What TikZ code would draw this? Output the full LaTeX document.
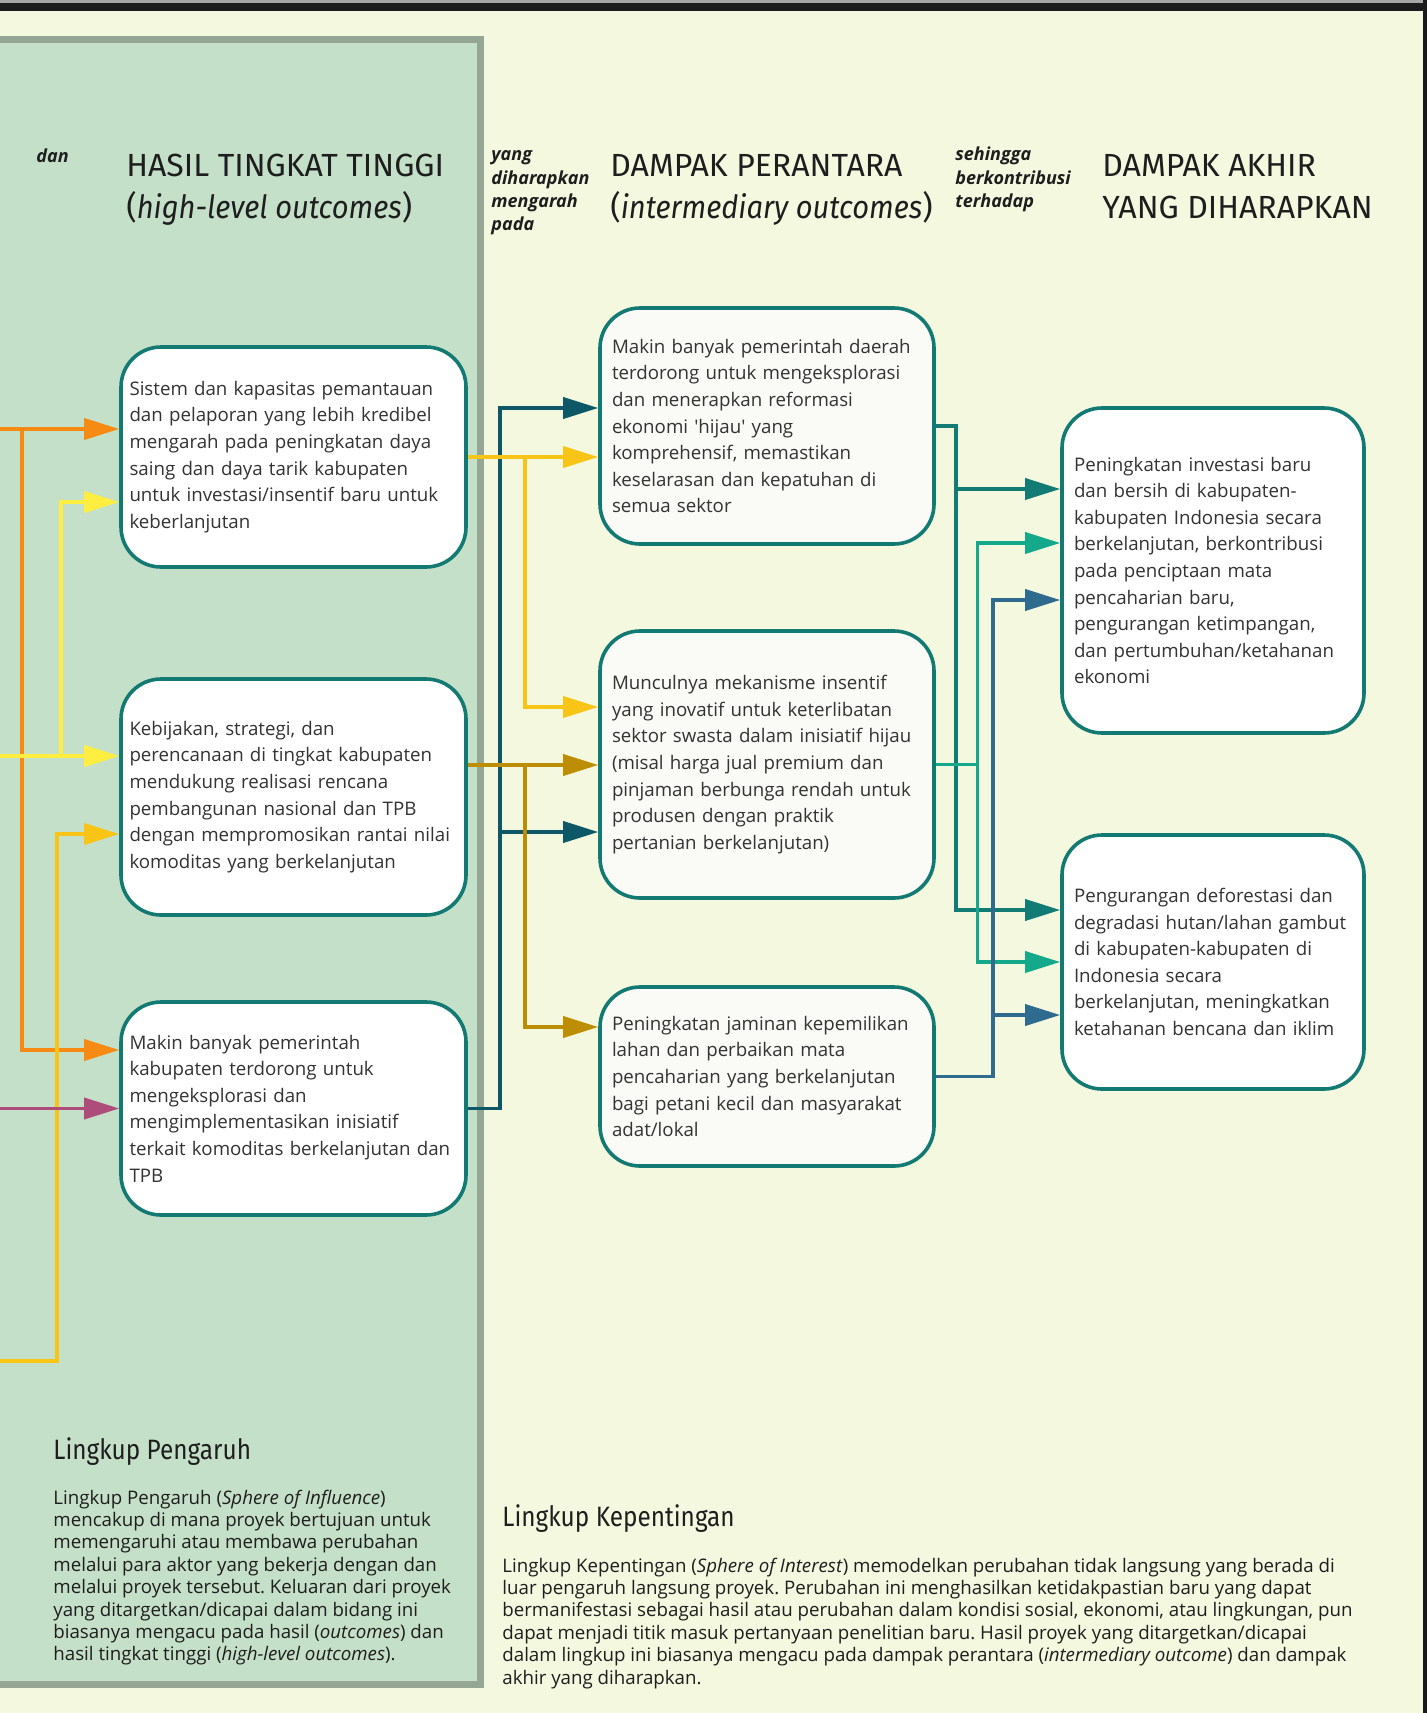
\documentclass[tikz,border=0pt]{standalone}
\usepackage{fontspec}
\setmainfont{Open Sans}
\newfontfamily\headfont[ItalicFeatures={FakeStretch=0.91}]{Fira Sans}
\newfontfamily\sphfont[FakeStretch=0.87]{Fira Sans}
\usetikzlibrary{arrows.meta,calc}
\frenchspacing

\definecolor{bgcol}{HTML}{F4F8DF}
\definecolor{panelcol}{HTML}{C5E0C8}
\definecolor{panelline}{HTML}{95A794}
\definecolor{framecol}{HTML}{1B1B1B}
\definecolor{boxline}{HTML}{127A72}
\definecolor{midfill}{HTML}{FAFAF6}
\definecolor{txtcol}{HTML}{333333}
\definecolor{headcol}{HTML}{1E1E1E}
\definecolor{orng}{HTML}{F78A12}
\definecolor{ylw}{HTML}{FFEE3F}
\definecolor{gld}{HTML}{F8C516}
\definecolor{mgnt}{HTML}{AE4C7A}
\definecolor{navy}{HTML}{0D5769}
\definecolor{dgld}{HTML}{BE8E02}
\definecolor{tealc}{HTML}{127C74}
\definecolor{grn}{HTML}{14A98A}
\definecolor{blu}{HTML}{2F6A8F}

\begin{document}
\begin{tikzpicture}[
    x=0.5pt, y=-0.5pt,
    outbox/.style={draw=boxline, line width=1.8pt, rounded corners=20pt,
      fill=white, text=txtcol, align=left, inner sep=0pt,
      font=\fontsize{9.35}{13.3}\selectfont},
    midbox/.style={outbox, fill=midfill},
    colhead/.style={anchor=north west, inner sep=0pt, align=left, text=headcol,
      font=\headfont\fontsize{16}{20.85}\selectfont},
    linkword/.style={anchor=north west, inner sep=0pt, align=left, text=headcol,
      font=\bfseries\itshape\fontsize{9}{11.65}\selectfont},
    sphhead/.style={anchor=base west, inner sep=0pt, text=headcol,
      font=\sphfont\fontsize{14}{16}\selectfont},
    sphtext/.style={anchor=north west, inner sep=0pt, align=left, text=headcol,
      font=\fontsize{9.35}{11.2}\selectfont},
    link/.style={line width=1.8pt, -{Triangle[length=17.5pt,width=10.5pt]}}
  ]
  \useasboundingbox (0,0) rectangle (1427,1713);
  \clip (0,0) rectangle (1427,1713);

  % background and frame
  \fill [bgcol] (0,0) rectangle (1427,1713);
  \fill [framecol] (0,0) rectangle (1427,11);
  \fill [gray!70] (0,0) rectangle (1427,3);
  \fill [framecol] (1422.5,0) rectangle (1427,1713);

  % sphere of influence panel
  \draw [panelline, fill=panelcol, line width=3.5pt] (-10,39.5) rectangle (480.5,1684);

  % column headings
  \node [linkword] (wDan) at (36,146) {\strut dan};
  \node [colhead] (hHasil) at (126,147) {\strut HASIL TINGKAT TINGGI\\(\textit{high-level outcomes})};
  \node [linkword] (wYang) at (491,144) {\strut yang\\diharapkan\\mengarah\\pada};
  \node [colhead] (hAntara) at (610,147) {\strut DAMPAK PERANTARA\\(\textit{intermediary outcomes})};
  \node [linkword] (wHingga) at (955,144) {\strut sehingga\\berkontribusi\\terhadap};
  \node [colhead] (hAkhir) at (1102,147) {\strut DAMPAK AKHIR\\YANG DIHARAPKAN};

  % high-level outcomes
  \node [outbox, minimum width=172.5pt, minimum height=110pt, text width=164pt] (b1) at (293.5,457)
    {Sistem dan kapasitas pemantauan\\dan pelaporan yang lebih kredibel\\mengarah pada peningkatan daya\\saing dan daya tarik kabupaten\\untuk investasi/insentif baru untuk\\keberlanjutan};
  \node [outbox, minimum width=172.5pt, minimum height=118pt, text width=164pt] (b2) at (293.5,797)
    {Kebijakan, strategi, dan\\perencanaan di tingkat kabupaten\\mendukung realisasi rencana\\pembangunan nasional dan TPB\\dengan mempromosikan rantai nilai\\komoditas yang berkelanjutan};
  \node [outbox, minimum width=172.5pt, minimum height=106.5pt, text width=164pt] (b3) at (293.5,1108.5)
    {Makin banyak pemerintah\\kabupaten terdorong untuk\\mengeksplorasi dan\\mengimplementasikan inisiatif\\terkait komoditas berkelanjutan dan\\TPB};

  % intermediary outcomes
  \node [midbox, minimum width=167pt, minimum height=118pt, text width=155pt] (m1) at (767,426)
    {Makin banyak pemerintah daerah\\terdorong untuk mengeksplorasi\\dan menerapkan reformasi\\ekonomi \textquotesingle{}hijau\textquotesingle{} yang\\komprehensif, memastikan\\keselarasan dan kepatuhan di\\semua sektor};
  \node [midbox, minimum width=167pt, minimum height=133.5pt, text width=155pt] (m2) at (767,764.5)
    {Munculnya mekanisme insentif\\yang inovatif untuk keterlibatan\\sektor swasta dalam inisiatif hijau\\(misal harga jual premium dan\\pinjaman berbunga rendah untuk\\produsen dengan praktik\\pertanian berkelanjutan)};
  \node [midbox, minimum width=167pt, minimum height=89.5pt, text width=155pt] (m3) at (767,1076.5)
    {Peningkatan jaminan kepemilikan\\lahan dan perbaikan mata\\pencaharian yang berkelanjutan\\bagi petani kecil dan masyarakat\\adat/lokal};

  % expected final outcomes
  \node [outbox, minimum width=151pt, minimum height=162.5pt, text width=139pt] (r1) at (1213,570.5)
    {Peningkatan investasi baru\\dan bersih di kabupaten-\\kabupaten Indonesia secara\\berkelanjutan, berkontribusi\\pada penciptaan mata\\pencaharian baru,\\pengurangan ketimpangan,\\dan pertumbuhan/ketahanan\\ekonomi};
  \node [outbox, minimum width=151pt, minimum height=127pt, text width=139pt] (r2) at (1213,962)
    {Pengurangan deforestasi dan\\degradasi hutan/lahan gambut\\di kabupaten-kabupaten di\\Indonesia secara\\berkelanjutan, meningkatkan\\ketahanan bencana dan iklim};

  % free ends and bend columns
  \coordinate (inOr) at (0,429);
  \coordinate (inYl) at (0,756);
  \coordinate (inGd) at (0,1361);
  \coordinate (inMg) at (0,1108.5);
  \coordinate (xOr) at (22,0);
  \coordinate (xYl) at (61,0);
  \coordinate (xGd) at (57,0);
  \coordinate (xNavy) at (500,0);
  \coordinate (xGold) at (525,0);
  \coordinate (xTeal) at (956,0);
  \coordinate (xGrn) at (977.5,0);
  \coordinate (xBlu) at (993,0);

  % into the high-level outcomes
  \draw [link, orng] (inOr) -- (inOr -| b1.west);
  \draw [link, orng] (inOr -| xOr) |- ($(b3.west)+(0,-58.5)$);
  \draw [link, ylw] (inYl) -- (inYl -| b2.west);
  \draw [link, ylw] (inYl -| xYl) |- ($(b1.west)+(0,45)$);
  \draw [link, gld] (inGd) -- (inGd -| xGd) |- ($(b2.west)+(0,37)$);
  \draw [link, mgnt] (inMg) -- (b3.west);

  % high-level to intermediary
  \draw [link, navy] (b3.east) -- (b3.east -| xNavy) |- ($(m1.west)+(0,-18)$);
  \draw [link, navy] ($(m2.west -| xNavy)+(0,67.5)$) -- ($(m2.west)+(0,67.5)$);
  \draw [link, gld] (b1.east) -- (b1.east -| m1.west);
  \draw [link, gld] (b1.east -| xGold) |- ($(m2.west)+(0,-57.5)$);
  \draw [link, dgld] ($(b2.east)+(0,-32)$) -- ($(b2.east -| m2.west)+(0,-32)$);
  \draw [link, dgld] ($(b2.east -| xGold)+(0,-32)$) |- ($(m3.west)+(0,-49.5)$);

  % intermediary to final
  \draw [link, tealc] (m1.east) -- (m1.east -| xTeal) |- ($(r1.west)+(0,-81.5)$);
  \draw [link, tealc] (m1.east -| xTeal) |- ($(r2.west)+(0,-52)$);
  \draw [link, grn] (m2.east) -- (m2.east -| xGrn) |- ($(r1.west)+(0,-27.5)$);
  \draw [link, grn] (m2.east -| xGrn) |- (r2.west);
  \draw [link, blu] (m3.east) -- (m3.east -| xBlu) |- ($(r1.west)+(0,29.5)$);
  \draw [link, blu] (m3.east -| xBlu) |- ($(r2.west)+(0,53)$);

  % sphere notes
  \node [sphhead] (sInfl) at (53,1459) {Lingkup Pengaruh};
  \node [sphtext] (tInfl) at (53,1488)
    {\strut Lingkup Pengaruh (\textit{Sphere of Influence})\\mencakup di mana proyek bertujuan untuk\\memengaruhi atau membawa perubahan\\melalui para aktor yang bekerja dengan dan\\melalui proyek tersebut. Keluaran dari proyek\\yang ditargetkan/dicapai dalam bidang ini\\biasanya mengacu pada hasil (\textit{outcomes}) dan\\hasil tingkat tinggi (\textit{high-level outcomes}).};
  \node [sphhead] (sInt) at (502,1526) {Lingkup Kepentingan};
  \node [sphtext] (tInt) at (502,1556)
    {\strut Lingkup Kepentingan (\textit{Sphere of Interest}) memodelkan perubahan tidak langsung yang berada di\\luar pengaruh langsung proyek. Perubahan ini menghasilkan ketidakpastian baru yang dapat\\bermanifestasi sebagai hasil atau perubahan dalam kondisi sosial, ekonomi, atau lingkungan, pun\\dapat menjadi titik masuk pertanyaan penelitian baru. Hasil proyek yang ditargetkan/dicapai\\dalam lingkup ini biasanya mengacu pada dampak perantara (\textit{intermediary outcome}) dan dampak\\akhir yang diharapkan.};
\end{tikzpicture}
\end{document}
